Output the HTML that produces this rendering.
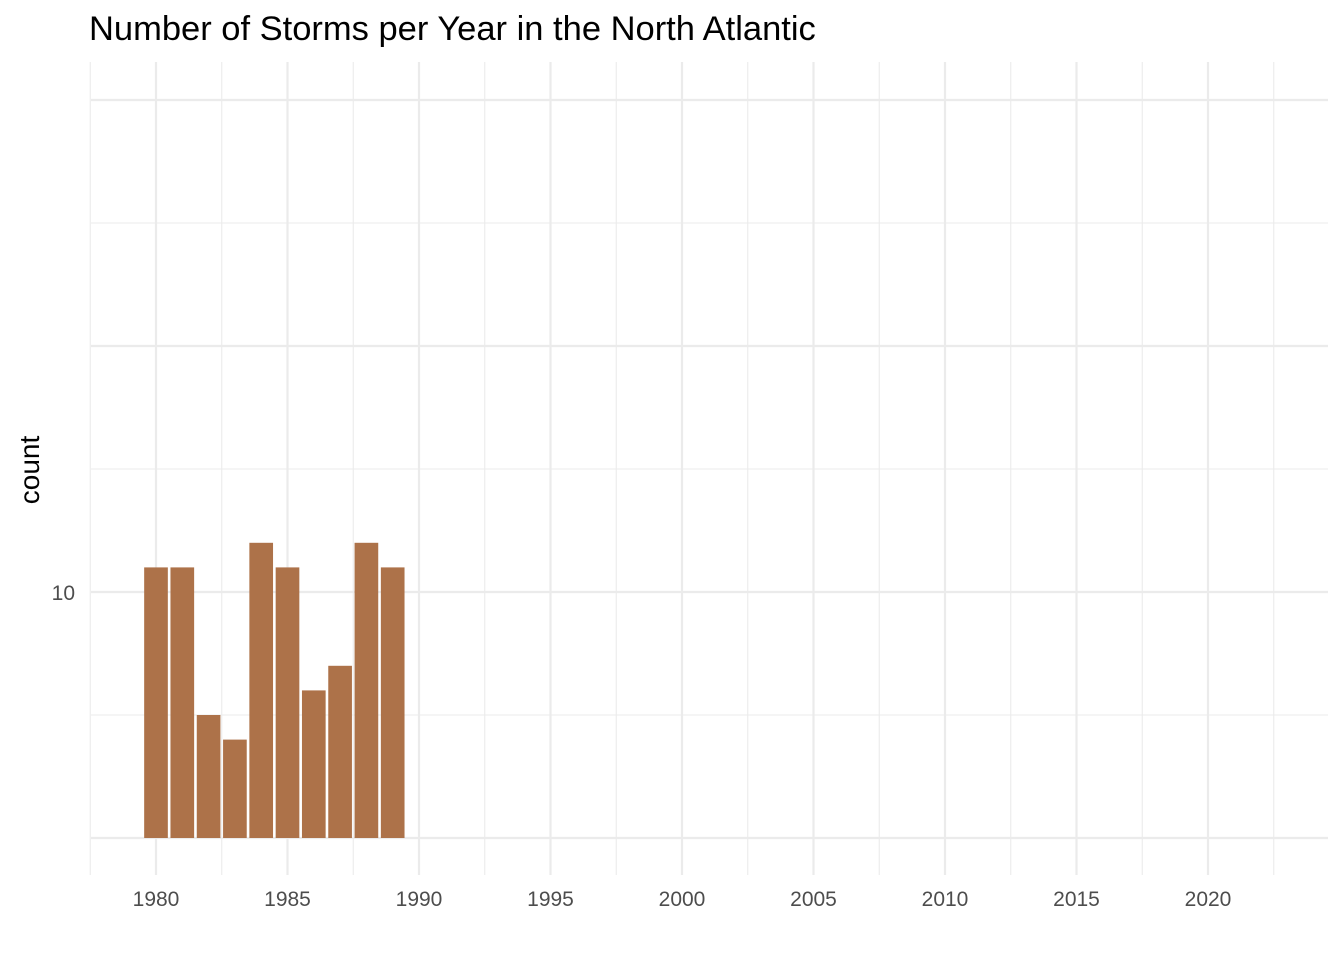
<!DOCTYPE html>
<html><head><meta charset="utf-8"><style>
body{margin:0;background:#fff;}
svg text{font-family:"Liberation Sans",Arial,sans-serif;}
</style></head><body>
<svg width="1344" height="960" xmlns="http://www.w3.org/2000/svg">
<text x="89" y="40" font-size="34.5" fill="#000">Number of Storms per Year in the North Atlantic</text>
<text transform="translate(39,470) rotate(-90)" text-anchor="middle" font-size="28" fill="#000">count</text>
<g id="grid"></g>
<g id="bars"></g>
<g id="xlabels"></g>
<g id="ylabels"></g>
</svg>
<script>
const years=[1980,1981,1982,1983,1984,1985,1986,1987,1988,1989];
const counts=[11,11,5,4,12,11,6,7,12,11];
const xTicks=[1980,1985,1990,1995,2000,2005,2010,2015,2020];
const yMajor=[0,10,20,30];
const yLabels=["","10","",""];
const ns="http://www.w3.org/2000/svg";
const X0=91,X1=1328;
function xs(v){return 156+(v-1980)*26.3;}
function ys(v){return 838-v*24.6;}
function mk(tag,attrs,parent){const e=document.createElementNS(ns,tag);for(const k in attrs)e.setAttribute(k,attrs[k]);parent.appendChild(e);return e;}
const grid=document.getElementById('grid');
for(let v=1977.5;v<=2023;v+=2.5){
  const major=(v%5===0);
  const l=mk('line',{x1:xs(v),x2:xs(v),y1:62,y2:875,stroke:'#ebebeb','stroke-width':major?2.2:1.1},grid);
  
  
}
for(let v=0;v<=30;v+=5){
  const major=(v%10===0);
  const l=mk('line',{x1:X0,x2:X1,y1:ys(v),y2:ys(v),stroke:'#ebebeb','stroke-width':major?2.2:1.1},grid);
  
  
}
const bars=document.getElementById('bars');
years.forEach((y,i)=>{
  const w=0.9*26.3;
  const r=mk('rect',{x:xs(y)-w/2,y:ys(counts[i]),width:w,height:ys(0)-ys(counts[i]),fill:'#ad7249'},bars);
  
  
});
const xl=document.getElementById('xlabels');
xTicks.forEach(t=>{
  const e=mk('text',{x:xs(t),y:906,'text-anchor':'middle','font-size':'21',fill:'#4d4d4d'},xl);
  e.textContent=t;
  
  
});
const yl=document.getElementById('ylabels');
yMajor.forEach((v,i)=>{
  if(!yLabels[i])return;
  const e=mk('text',{x:75,y:ys(v)+8,'text-anchor':'end','font-size':'21',fill:'#4d4d4d'},yl);
  e.textContent=yLabels[i];
  
  
});
</script>
</body></html>
